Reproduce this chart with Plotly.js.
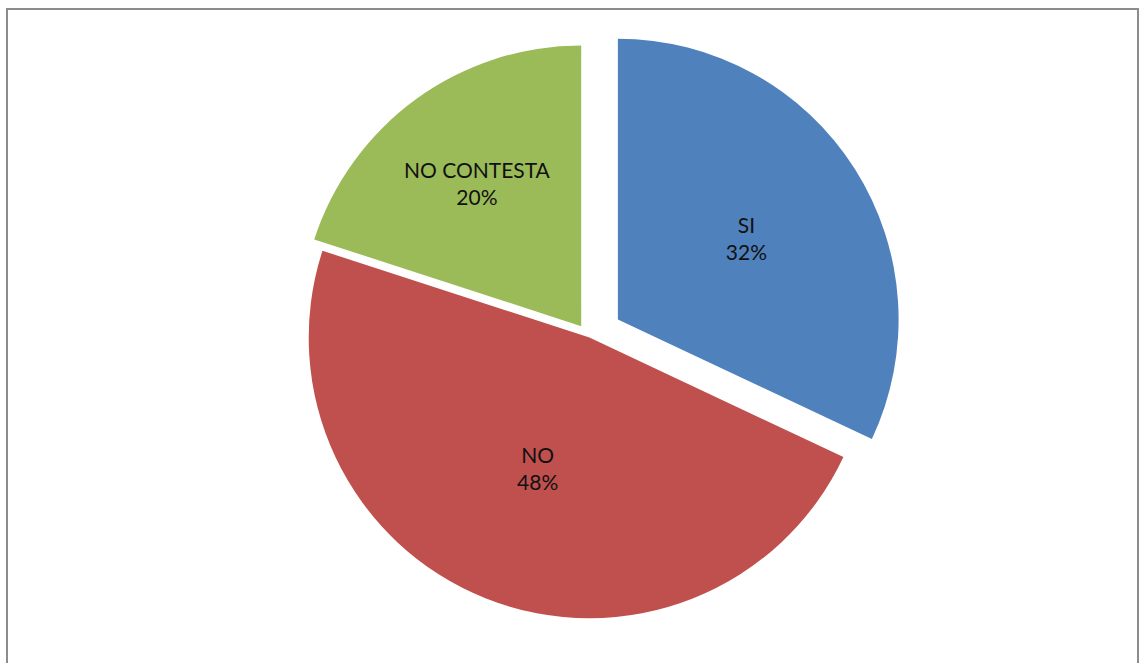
<!DOCTYPE html>
<html>
<head>
<meta charset="utf-8">
<script src="https://cdn.plot.ly/plotly-3.0.1.min.js"></script>
<style>
  html, body { margin: 0; padding: 0; background: #ffffff; overflow: hidden; }
  #frame { position: absolute; left: 6px; top: 8px; width: 1133px; height: 670px;
           border: 2px solid #8c8c8c; border-bottom: none; box-sizing: border-box; background: #fff; }
  #chart { position: absolute; left: 0; top: 0; width: 1129px; height: 668px; }
</style>
</head>
<body>
<div id="frame"><div id="chart"></div></div>
<script>
const categories = ["SI", "NO", "NO CONTESTA"];
const values = [32, 48, 20];
const colors = ["#4F81BD", "#C0504D", "#9BBB59"];
const pulls = [0.12, 0, 0.05];

const trace = {
  type: "pie",
  labels: categories,
  values: values,
  sort: false,
  direction: "clockwise",
  rotation: 0,
  pull: pulls,
  marker: { colors: colors, line: { color: "#ffffff", width: 0 } },
  textinfo: "label+percent",
  texttemplate: "%{label}<br>%{percent:.0%}",
  textposition: "inside",
  insidetextorientation: "horizontal",
  textfont: { family: "Lato, 'Open Sans', sans-serif", size: 21, color: "#111111" },
  hoverinfo: "label+percent",
  domain: { x: [0.08, 0.95], y: [0.02, 0.98] }
};

const layout = {
  width: 1129,
  height: 655,
  margin: { l: 0, r: 0, t: 0, b: 0 },
  paper_bgcolor: "#ffffff",
  showlegend: false
};

Plotly.newPlot("chart", [trace], layout, { displayModeBar: false, staticPlot: true });
</script>
</body>
</html>
